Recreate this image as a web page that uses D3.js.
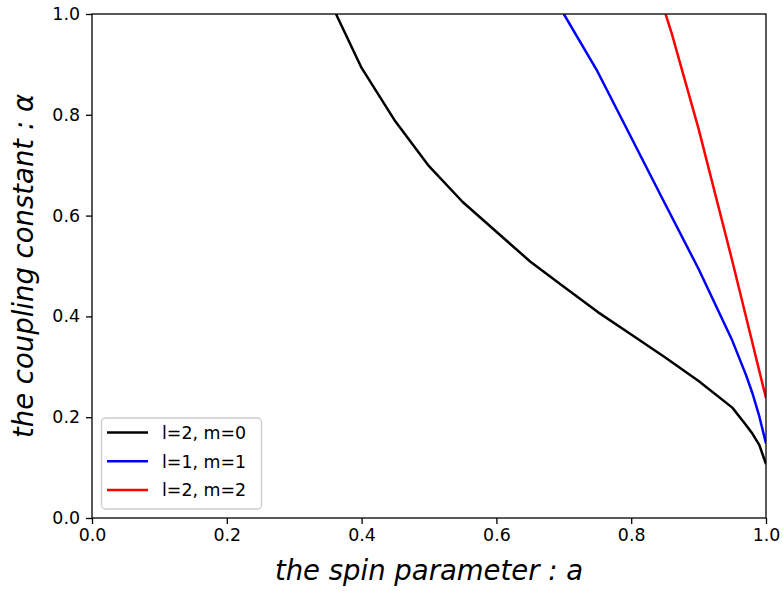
<!DOCTYPE html>
<html><head><meta charset="utf-8">
<script src="https://cdn.jsdelivr.net/npm/d3@7"></script>
<style>body{margin:0;background:#fff}svg{display:block}text{font-family:"DejaVu Sans",sans-serif}</style>
</head><body><svg id="c" width="783" height="591"></svg>
<script>
const xTicks = [0.0, 0.2, 0.4, 0.6, 0.8, 1.0];
const yTicks = [0.0, 0.2, 0.4, 0.6, 0.8, 1.0];
const seriesNames = ["l=2, m=0", "l=1, m=1", "l=2, m=2"];
const seriesColors = ["#000000", "#0000ff", "#ff0000"];
const aL2M0 = [0.362, 0.40, 0.45, 0.50, 0.55, 0.60, 0.65, 0.70, 0.75, 0.80, 0.85, 0.90, 0.95, 0.97, 0.98, 0.99, 1.00];
const alphaL2M0 = [1.0, 0.893, 0.787, 0.698, 0.627, 0.568, 0.509, 0.459, 0.409, 0.364, 0.319, 0.272, 0.219, 0.185, 0.167, 0.145, 0.107];
const aL1M1 = [0.70, 0.75, 0.80, 0.85, 0.90, 0.95, 0.97, 0.98, 0.99, 1.00];
const alphaL1M1 = [1.0, 0.886, 0.755, 0.624, 0.494, 0.352, 0.285, 0.247, 0.202, 0.148];
const aL2M2 = [0.851, 0.86, 0.90, 0.95, 1.00];
const alphaL2M2 = [1.0, 0.962, 0.772, 0.510, 0.238];

const svg = d3.select("#c");
const L = 92, T = 14, W = 674, H = 504;
const x = d3.scaleLinear().domain([0, 1]).range([L, L + W]);
const y = d3.scaleLinear().domain([0, 1]).range([T + H, T]);

svg.append("clipPath").attr("id", "clip").append("rect")
  .attr("x", L).attr("y", T).attr("width", W).attr("height", H);

const series = [
  {a: aL2M0, v: alphaL2M0},
  {a: aL1M1, v: alphaL1M1},
  {a: aL2M2, v: alphaL2M2}
];
const line = d3.line().x(d => x(d[0])).y(d => y(d[1]));
series.forEach((s, i) => {
  svg.append("path")
    .datum(s.a.map((a, j) => [a, s.v[j]]))
    .attr("clip-path", "url(#clip)")
    .attr("fill", "none").attr("stroke", seriesColors[i])
    .attr("stroke-width", 2.5).attr("stroke-linejoin", "round")
    .attr("d", line);
});

const xAxis = svg.append("g").attr("transform", `translate(0,${T + H})`)
  .call(d3.axisBottom(x).tickValues(xTicks).tickFormat(d3.format(".1f")).tickSizeInner(6).tickSizeOuter(0).tickPadding(5));
const yAxis = svg.append("g").attr("transform", `translate(${L},0)`)
  .call(d3.axisLeft(y).tickValues(yTicks).tickFormat(d3.format(".1f")).tickSizeInner(6).tickSizeOuter(0).tickPadding(6));
[xAxis, yAxis].forEach(g => {
  g.selectAll("text").attr("font-size", 17.4).attr("fill", "#000").attr("font-family", "DejaVu Sans");
  g.selectAll("line").attr("stroke", "#000").attr("stroke-width", 1.3);
  g.select(".domain").remove();
});
svg.append("rect").attr("x", L).attr("y", T).attr("width", W).attr("height", H)
  .attr("fill", "none").attr("stroke", "#000").attr("stroke-width", 1.3);

svg.append("text").attr("x", L + W / 2).attr("y", 580).attr("text-anchor", "middle")
  .attr("font-size", 27.5).attr("font-style", "italic").text("the spin parameter : a");
svg.append("text").attr("transform", `translate(33,${T + H / 2}) rotate(-90)`).attr("text-anchor", "middle")
  .attr("font-size", 27.5).attr("font-style", "italic").text("the coupling constant : α");

const lg = svg.append("g");
lg.append("rect").attr("x", 101.5).attr("y", 418).attr("width", 160).attr("height", 91)
  .attr("rx", 4).attr("fill", "#fff").attr("fill-opacity", 0.8).attr("stroke", "#cccccc").attr("stroke-width", 1.3);
seriesNames.forEach((n, i) => {
  const yy = 432.5 + i * 28.7;
  lg.append("line").attr("x1", 107).attr("x2", 148).attr("y1", yy).attr("y2", yy)
    .attr("stroke", seriesColors[i]).attr("stroke-width", 2.5);
  lg.append("text").attr("x", 162).attr("y", yy + 6.3).attr("font-size", 17.4).text(n);
});
</script></body></html>
